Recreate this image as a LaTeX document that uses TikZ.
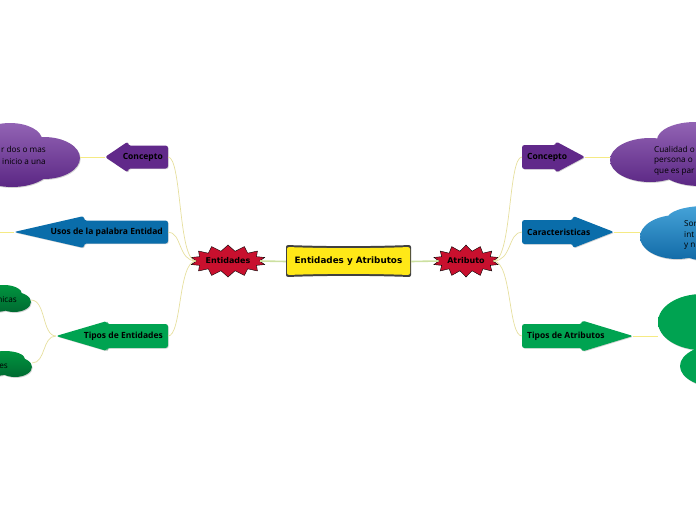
\documentclass[tikz,border=0pt]{standalone}
\usepackage{fontspec}
\setmainfont{Open Sans}
\newfontfamily\dejavu{DejaVu Sans}
\usetikzlibrary{shapes.symbols,shadows}
\definecolor{cpurple}{HTML}{61298A}
\definecolor{cpurpleL}{HTML}{9263B4}
\definecolor{cpurpleD}{HTML}{5B2784}
\definecolor{cblue}{HTML}{0A6DAA}
\definecolor{cblueL}{HTML}{45A2D8}
\definecolor{cblueD}{HTML}{116AA6}
\definecolor{cgreen}{HTML}{00A351}
\definecolor{cgreenL}{HTML}{00953F}
\definecolor{cgreenD}{HTML}{006A31}
\definecolor{cred}{HTML}{C8102E}
\definecolor{cyel}{HTML}{FFE817}
\definecolor{cbranch}{HTML}{E6DF9E}
\definecolor{clink}{HTML}{F5EA84}
\definecolor{ccenter}{HTML}{CCE0A0}
\newcommand\arrowshape[7]{%
  \fill[arrowbox=#7] ({#1},{#4-#5}) -- ({#2},{#4-#5}) -- ({#2},{#4-#6}) -- ({#3},{#4})
    -- ({#2},{#4+#6}) -- ({#2},{#4+#5}) -- ({#1},{#4+#5}) -- cycle;}
\tikzset{
  arrowbox/.style={fill=#1, rounded corners=2.5pt,
    drop shadow={shadow xshift=0.7pt, shadow yshift=-0.7pt, opacity=0.35}},
  cloudshape/.style 2 args={top color=#1, bottom color=#2,
    drop shadow={shadow xshift=0.7pt, shadow yshift=-0.9pt, opacity=0.35}},
  lbl/.style={font=\bfseries\fontsize{8.5}{10}\selectfont, inner sep=0pt, text=black},
  ctext/.style={font=\fontsize{8.2}{10}\selectfont, inner sep=0pt, text=black},
  star/.style={starburst, starburst points=14, starburst point height=6pt,
    random starburst=0, fill=cred, draw=black, line width=0.4pt,
    minimum width=66pt, minimum height=32pt, inner sep=0pt,
    font=\dejavu\bfseries\fontsize{8}{10}\selectfont},
  branch/.style={draw=cbranch, line width=0.7pt},
  link/.style={draw=clink, line width=0.8pt},
  mainlink/.style={draw=ccenter, line width=1.6pt},
}
\begin{document}
\begin{tikzpicture}[x=1pt,y=-1pt]
\useasboundingbox (0,0) rectangle (696,520);
\clip (0,0) rectangle (696,520);

% ---------- clouds ----------
\path[cloudshape={cpurpleL}{cpurpleD}] (10,140) ellipse [x radius=32pt,y radius=17pt]
  (44,158) ellipse [x radius=36pt,y radius=21pt] (12,166) ellipse [x radius=40pt,y radius=21pt];
\path[cloudshape={cpurpleL}{cpurpleD}] (650,160) ellipse [x radius=40pt,y radius=22pt]
  (695,140) ellipse [x radius=38pt,y radius=18pt] (700,168) ellipse [x radius=40pt,y radius=18pt];
\path[cloudshape={cblueL}{cblueD}] (677,237) ellipse [x radius=37pt,y radius=22pt]
  (705,219) ellipse [x radius=38pt,y radius=13pt] (710,245) ellipse [x radius=35pt,y radius=16pt];
\path[cloudshape={cgreen}{cgreen}] (702,322) ellipse [x radius=44pt,y radius=28pt]
  (722,366) ellipse [x radius=42pt,y radius=22pt];
\path[cloudshape={cgreenL}{cgreenD}] (4,294) ellipse [x radius=18pt,y radius=9pt]
  (14,302) ellipse [x radius=17pt,y radius=10pt] (-5,303) ellipse [x radius=20pt,y radius=9pt];
\path[cloudshape={cgreenL}{cgreenD}] (5,359) ellipse [x radius=20pt,y radius=8pt]
  (15,367) ellipse [x radius=17pt,y radius=10pt] (-5,366) ellipse [x radius=20pt,y radius=10pt];

% cloud anchors
\coordinate (cl1) at (80,157);
\coordinate (cl2) at (0,232);
\coordinate (cl3) at (31,300);
\coordinate (cl4) at (32,363);
\coordinate (cr1) at (610,157);
\coordinate (cr2) at (640,232);
\coordinate (cr3) at (658,336);

% cloud texts
\node[ctext, anchor=east, align=right] (tl1a) at (46,149) {r dos o mas};
\node[ctext, anchor=east, align=right] (tl1b) at (46,161.5) {inicio a una};
\node[ctext, anchor=east] (tl3) at (17,300) {nicas};
\node[ctext, anchor=east] (tl4) at (8,366) {es};
\node[ctext, anchor=west] (tr1a) at (654,149.5) {Cualidad o};
\node[ctext, anchor=west] (tr1b) at (654,161) {persona o};
\node[ctext, anchor=west] (tr1c) at (654,172.5) {que es par};
\node[ctext, anchor=west] (tr2a) at (684,224) {Sor};
\node[ctext, anchor=west] (tr2b) at (684,235) {int};
\node[ctext, anchor=west] (tr2c) at (684,246) {y n};

% ---------- arrows ----------
\arrowshape{168}{128}{105}{157}{11.5}{15.5}{cpurple}
\arrowshape{168}{84}{14}{232}{11.5}{16}{cblue}
\arrowshape{168}{107}{56}{336}{12}{15}{cgreen}
\arrowshape{522}{556}{585}{157}{12}{15.5}{cpurple}
\arrowshape{522}{573}{614}{232}{12}{16}{cblue}
\arrowshape{522}{582}{633}{336}{12}{15.5}{cgreen}

\coordinate (lt1) at (168,157); \coordinate (lp1) at (105,157);
\coordinate (lt2) at (168,232); \coordinate (lp2) at (14,232);
\coordinate (lt3) at (168,336); \coordinate (lp3) at (56,336);
\coordinate (rt1) at (522,157); \coordinate (rp1) at (585,157);
\coordinate (rt2) at (522,232); \coordinate (rp2) at (614,232);
\coordinate (rt3) at (522,336); \coordinate (rp3) at (633,336);

\node[lbl, anchor=east] (lc) at (163,157) {Concepto};
\node[lbl, anchor=east] (lu) at (163,232) {Usos de la palabra Entidad};
\node[lbl, anchor=east] (lte) at (163,336) {Tipos de Entidades};
\node[lbl, anchor=west] (rc) at (527,157) {Concepto};
\node[lbl, anchor=west] (rca) at (527,232) {Caracteristicas};
\node[lbl, anchor=west] (rta) at (527,336) {Tipos de Atributos};

% ---------- center ----------
\fill[fill=black!75, rounded corners=2pt] (286,245) .. controls (330,246.5) and (367,246.5) .. (411,245)
  -- (411,277) .. controls (367,275.5) and (330,275.5) .. (286,277) -- cycle;
\fill[fill=cyel, rounded corners=2pt] (287,247) .. controls (330,248.5) and (367,248.5) .. (410,247)
  -- (410,275) .. controls (367,273.5) and (330,273.5) .. (287,275) -- cycle;
\node[font=\dejavu\bfseries\fontsize{8.8}{10}\selectfont, inner sep=0pt, minimum width=125pt, minimum height=32pt] (main) at (348.5,261.5) {Entidades y Atributos};

\node[star] (ent) at (228,261) {Entidades};
\node[star] (atr) at (466,261) {Atributo};

% ---------- connectors ----------
\draw[mainlink] (main.west) -- (ent.east);
\draw[mainlink] (main.east) -- (atr.west);

\draw[branch] (ent.west) .. controls (178,261) and (182,157) .. (lt1);
\draw[branch] (ent.west) .. controls (178,261) and (182,232) .. (lt2);
\draw[branch] (ent.west) .. controls (178,261) and (182,336) .. (lt3);
\draw[branch] (atr.east) .. controls (512,261) and (508,157) .. (rt1);
\draw[branch] (atr.east) .. controls (512,261) and (508,232) .. (rt2);
\draw[branch] (atr.east) .. controls (512,261) and (508,336) .. (rt3);

\draw[link] (lp1) -- (cl1);
\draw[link] (lp2) -- (cl2);
\draw[branch] (lp3) .. controls (42,336) and (46,300) .. (cl3);
\draw[branch] (lp3) .. controls (42,336) and (46,363) .. (cl4);
\draw[link] (rp1) -- (cr1);
\draw[link] (rp2) -- (cr2);
\draw[link] (rp3) -- (cr3);
\end{tikzpicture}
\end{document}
